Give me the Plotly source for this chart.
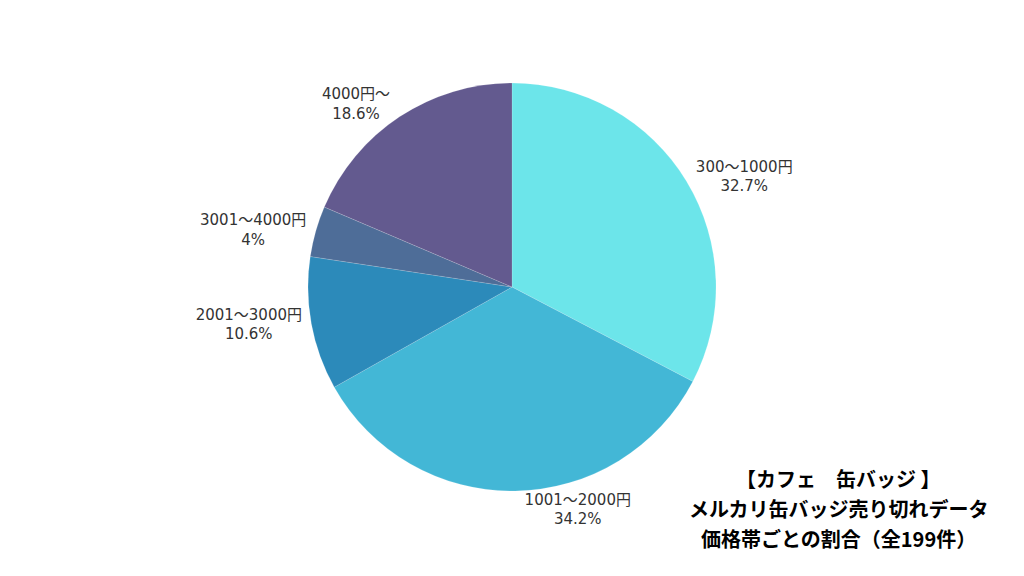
"""
Pie chart: share of sold-out cafe can badges by price band.
"""

import plotly.graph_objects as go

# price bands (clockwise from 12 o'clock)
labels = ["300～1000円", "1001～2000円", "2001～3000円", "3001～4000円", "4000円～"]
counts = [65, 68, 21, 8, 37]  # total 199 items
pct_text = ["32.7%", "34.2%", "10.6%", "4%", "18.6%"]
colors = ["#6ce5ea", "#43b7d6", "#2c8aba", "#4e6d98", "#635a8f"]

title_lines = [
    "【カフェ　缶バッジ 】",
    "メルカリ缶バッジ売り切れデータ",
    "価格帯ごとの割合（全199件）",
]

W, H = 1024, 576
OFF = 8  # page body margin shifts everything by ~8px

fig = go.Figure(
    go.Pie(
        labels=labels,
        values=counts,
        text=pct_text,
        texttemplate="%{label}<br>%{text}",
        textposition="outside",
        sort=False,
        direction="clockwise",
        rotation=0,
        automargin=False,
        marker=dict(colors=colors, line=dict(color="rgba(255,255,255,0.3)", width=0.5)),
        textfont=dict(family="DejaVu Sans, Noto Sans CJK JP", size=15, color="#333333"),
        showlegend=False,
        hoverinfo="label+percent",
        domain=dict(x=[0.0, 1 - 2 * OFF / W],
                    y=[1 - (491 - OFF) / H, 1 - (83 - OFF) / H]),
    )
)

# title block, one annotation per line for the wider line spacing
for i, line in enumerate(title_lines):
    fig.add_annotation(
        text="<b>" + line + "</b>",
        x=(838 - OFF) / W, y=1 - (478 - OFF + 30 * i) / H,
        xref="paper", yref="paper",
        xanchor="center", yanchor="middle",
        showarrow=False,
        font=dict(family="Noto Sans CJK JP", size=20, color="#000000"),
    )

fig.update_layout(
    width=W,
    height=H,
    margin=dict(l=0, r=0, t=0, b=0, autoexpand=False),
    paper_bgcolor="white",
    plot_bgcolor="white",
)

fig.write_html("out.html")
